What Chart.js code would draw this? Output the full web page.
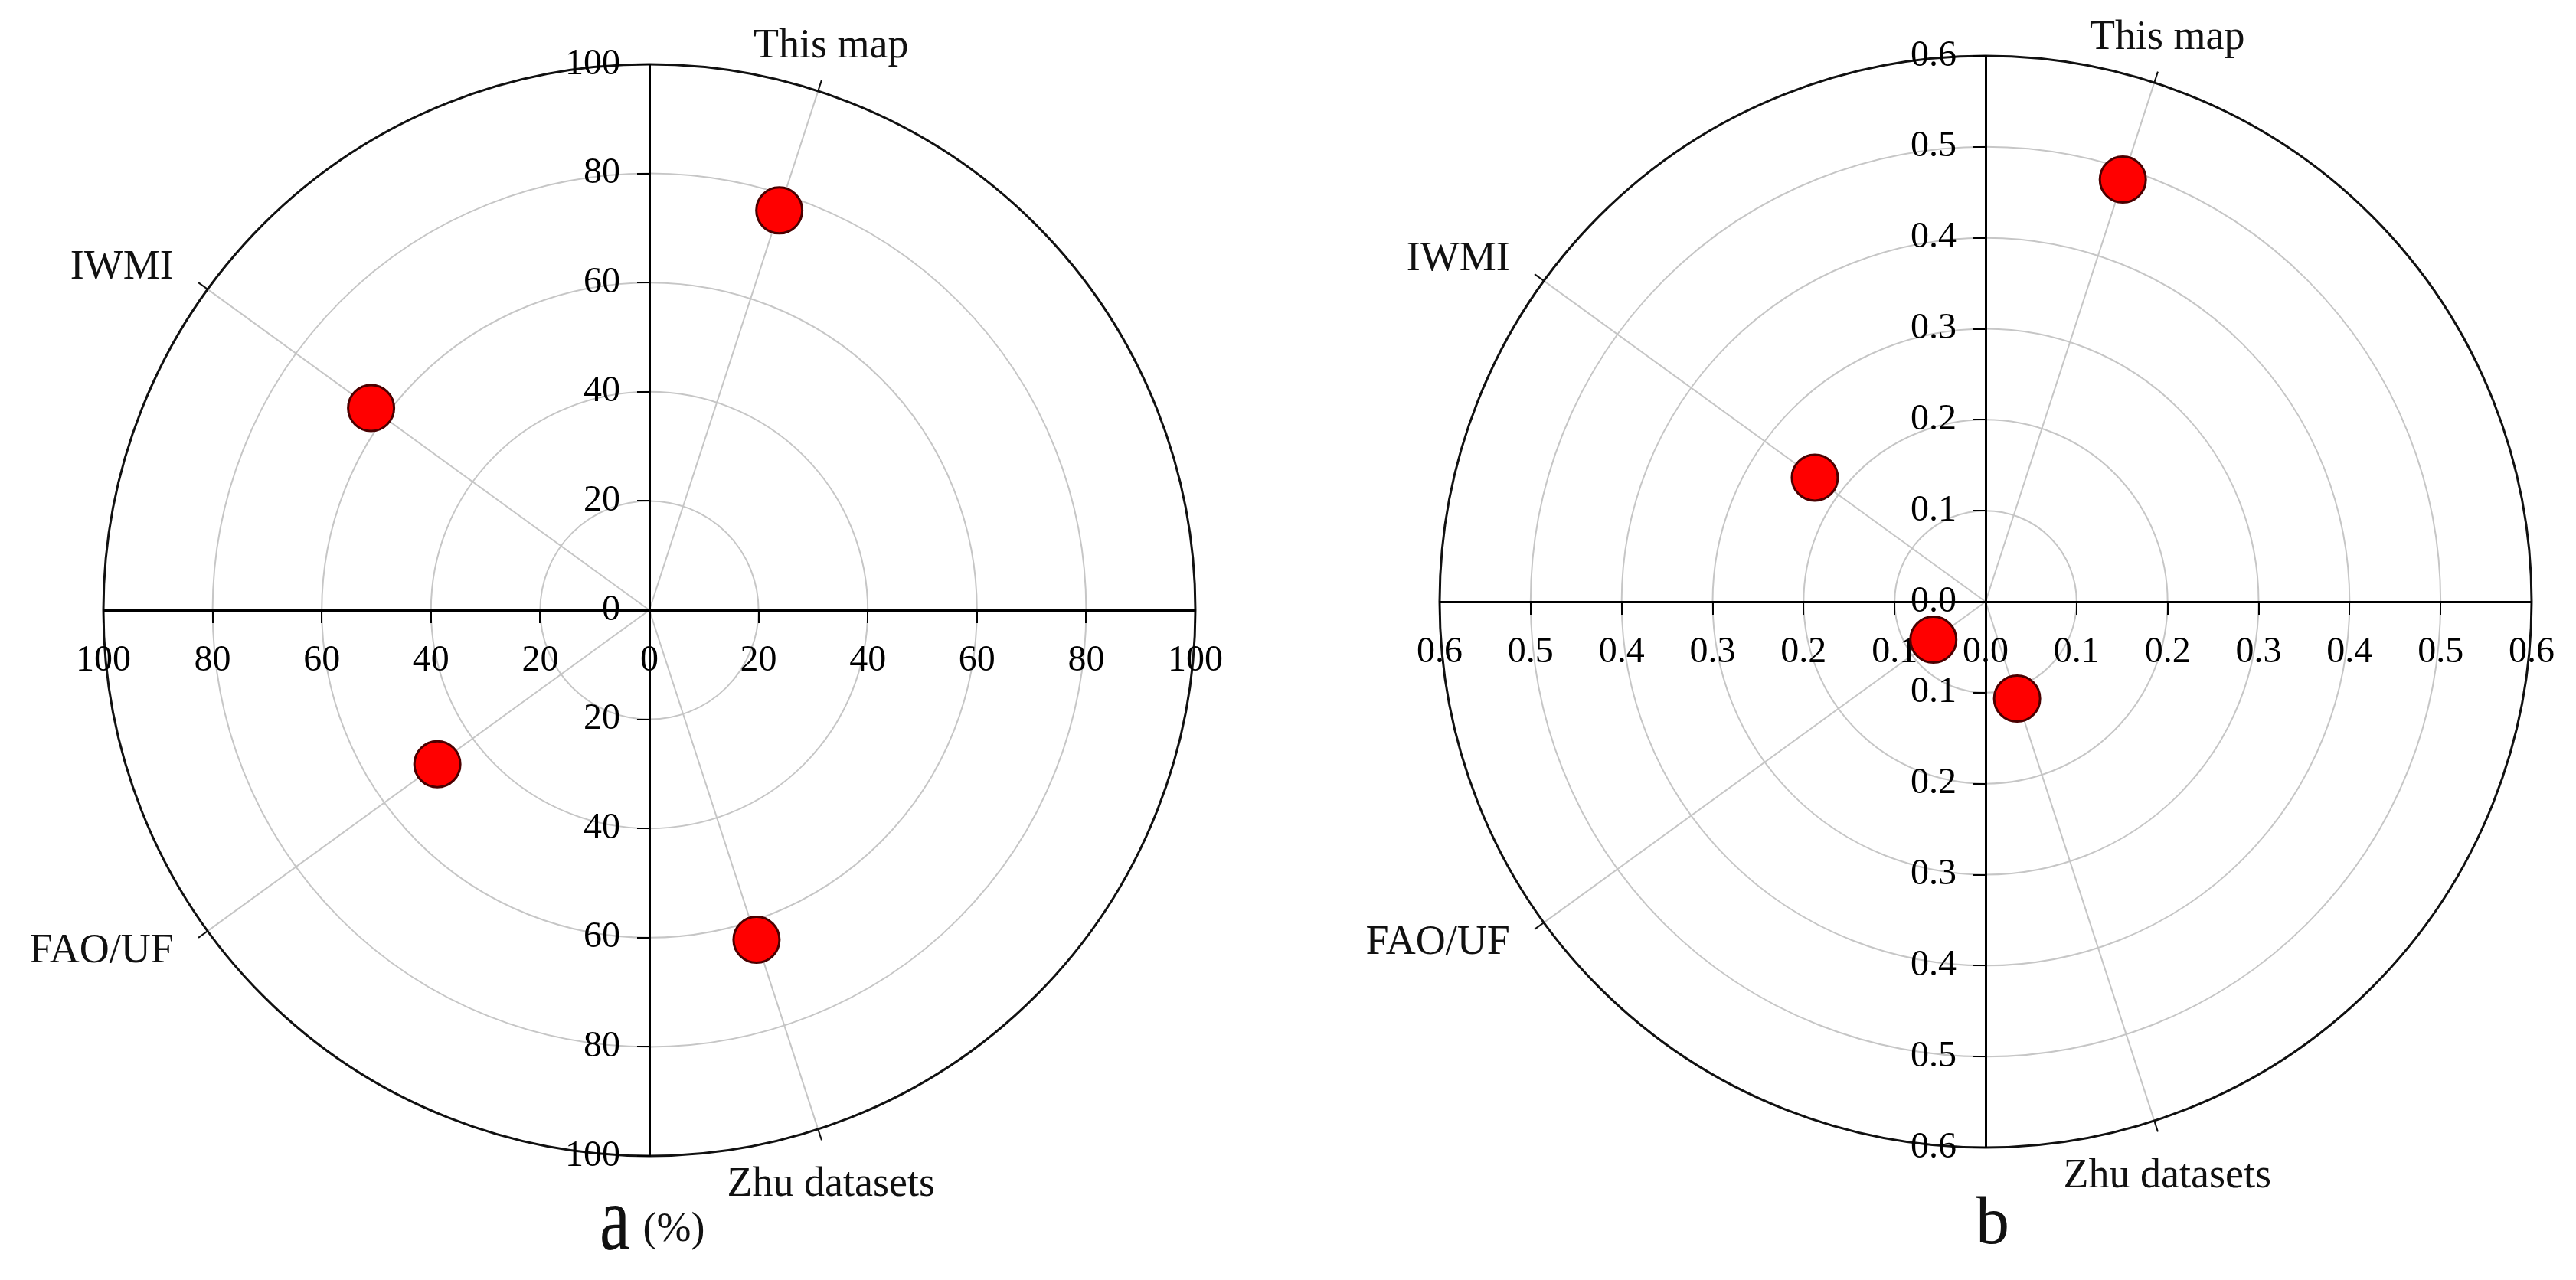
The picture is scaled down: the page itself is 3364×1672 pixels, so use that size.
<!DOCTYPE html>
<html>
<head>
<meta charset="utf-8">
<script src="https://cdn.jsdelivr.net/npm/chart.js@4.4.0/dist/chart.umd.min.js"></script>
<style>
  html, body { margin: 0; padding: 0; background: #fff; }
  body { width: 3364px; height: 1672px; position: relative; overflow: hidden; }
  canvas { position: absolute; top: 0; }
  #chartA { left: 0; }
  #chartB { left: 1682px; }
</style>
</head>
<body>
<canvas id="chartA" width="1682" height="1672"></canvas>
<canvas id="chartB" width="1682" height="1672"></canvas>
<script>
// spokes, counter-clockwise from east (degrees)
const spokeLabels = ["This map", "IWMI", "FAO/UF", "Zhu datasets"];
const spokeAngles = [72, 144, 216, 288];

// panel a (%)
const valuesA = [77, 63, 48, 63.5];
const ringTicksA = [0, 20, 40, 60, 80, 100];

// panel b
const valuesB = [0.488, 0.232, 0.071, 0.112];
const ringTicksB = [0, 0.1, 0.2, 0.3, 0.4, 0.5, 0.6];

Chart.defaults.font.family = "'Liberation Serif', 'Times New Roman', serif";
Chart.defaults.color = "#000";

const rad = d => d * Math.PI / 180;

const polarFrame = {
  id: "polarFrame",
  beforeDraw(chart) {
    const { ctx, scales: { x, y } } = chart;
    const cx = x.getPixelForValue(0), cy = y.getPixelForValue(0);
    const R = x.getPixelForValue(x.max) - cx;
    ctx.save();
    ctx.strokeStyle = "#c6c6c6";
    ctx.lineWidth = 2;
    x.ticks.forEach(t => {
      if (t.value > 1e-9 && t.value < x.max - 1e-9) {
        ctx.beginPath();
        ctx.arc(cx, cy, x.getPixelForValue(t.value) - cx, 0, 2 * Math.PI);
        ctx.stroke();
      }
    });
    spokeAngles.forEach(a => {
      ctx.beginPath();
      ctx.moveTo(cx, cy);
      ctx.lineTo(cx + R * Math.cos(rad(a)), cy - R * Math.sin(rad(a)));
      ctx.stroke();
    });
    ctx.strokeStyle = "#111";
    ctx.lineWidth = 3;
    ctx.beginPath();
    ctx.arc(cx, cy, R, 0, 2 * Math.PI);
    ctx.stroke();
    ctx.lineWidth = 2;
    spokeAngles.forEach(a => {
      const c = Math.cos(rad(a)), s = Math.sin(rad(a));
      ctx.beginPath();
      ctx.moveTo(cx + R * c, cy - R * s);
      ctx.lineTo(cx + (R + 15) * c, cy - (R + 15) * s);
      ctx.stroke();
    });
    ctx.restore();
  },
  afterDraw(chart, args, opts) {
    const { ctx, scales: { x, y } } = chart;
    const cx = x.getPixelForValue(0), cy = y.getPixelForValue(0);
    const R = x.getPixelForValue(x.max) - cx;
    ctx.save();
    ctx.fillStyle = "#111";
    ctx.font = "54px 'Liberation Serif'";
    ctx.textBaseline = "middle";
    spokeLabels.forEach((lab, i) => {
      const c = Math.cos(rad(spokeAngles[i])), s = Math.sin(rad(spokeAngles[i]));
      ctx.textAlign = c > 0.2 ? "center" : "right";
      ctx.fillText(lab, cx + (R + 55) * c, cy - (R + 55) * s + opts.labelDy[i]);
    });
    ctx.textBaseline = "alphabetic";
    ctx.textAlign = "center";
    (opts.caption || []).forEach(p => {
      ctx.save();
      ctx.font = p.size + "px 'Liberation Serif'";
      ctx.translate(cx + p.dx, cy + p.dy);
      ctx.scale(1, p.stretch || 1);
      ctx.fillText(p.text, 0, 0);
      ctx.restore();
    });
    ctx.restore();
  }
};

function axis(max, step, decimals) {
  return {
    type: "linear",
    position: "center",
    min: -max,
    max: max,
    afterFit: s => { if (s.isHorizontal()) s.height = 0; else s.width = 0; },
    ticks: {
      stepSize: step,
      autoSkip: false,
      maxRotation: 0,
      padding: 23,
      font: { size: 48 },
      color: "#000",
      callback: v => Math.abs(v).toFixed(decimals)
    },
    grid: { drawOnChartArea: false, drawTicks: true, tickLength: 15, color: "#000", lineWidth: 2 },
    border: { color: "#000", width: 3 }
  };
}

function makeChart(id, values, ringTicks, decimals, padding, caption) {
  const max = ringTicks[ringTicks.length - 1];
  const step = ringTicks[1];
  new Chart(document.getElementById(id), {
    type: "scatter",
    data: {
      datasets: [{
        data: values.map((r, i) => ({ x: r * Math.cos(rad(spokeAngles[i])), y: r * Math.sin(rad(spokeAngles[i])) })),
        pointRadius: 30,
        pointBackgroundColor: "#ff0000",
        pointBorderColor: "#4a0000",
        pointBorderWidth: 3,
        clip: false
      }]
    },
    options: {
      responsive: false,
      animation: false,
      layout: { padding: padding },
      scales: { x: axis(max, step, decimals), y: axis(max, step, decimals) },
      plugins: {
        legend: { display: false },
        tooltip: { enabled: false },
        polarFrame: { caption: caption, labelDy: [-6, 4, -6, 20] }
      }
    },
    plugins: [polarFrame]
  });
}

makeChart("chartA", valuesA, ringTicksA, 0,
  { left: 135, top: 84, right: 121, bottom: 162 },
  [{ text: "a", size: 90, stretch: 1.35, dx: -45, dy: 835 }, { text: "(%)", size: 54, dx: 32, dy: 824 }]);

makeChart("chartB", valuesB, ringTicksB, 1,
  { left: 198, top: 73, right: 58, bottom: 173 },
  [{ text: "b", size: 88, dx: 9, dy: 838 }]);
</script>
</body>
</html>
